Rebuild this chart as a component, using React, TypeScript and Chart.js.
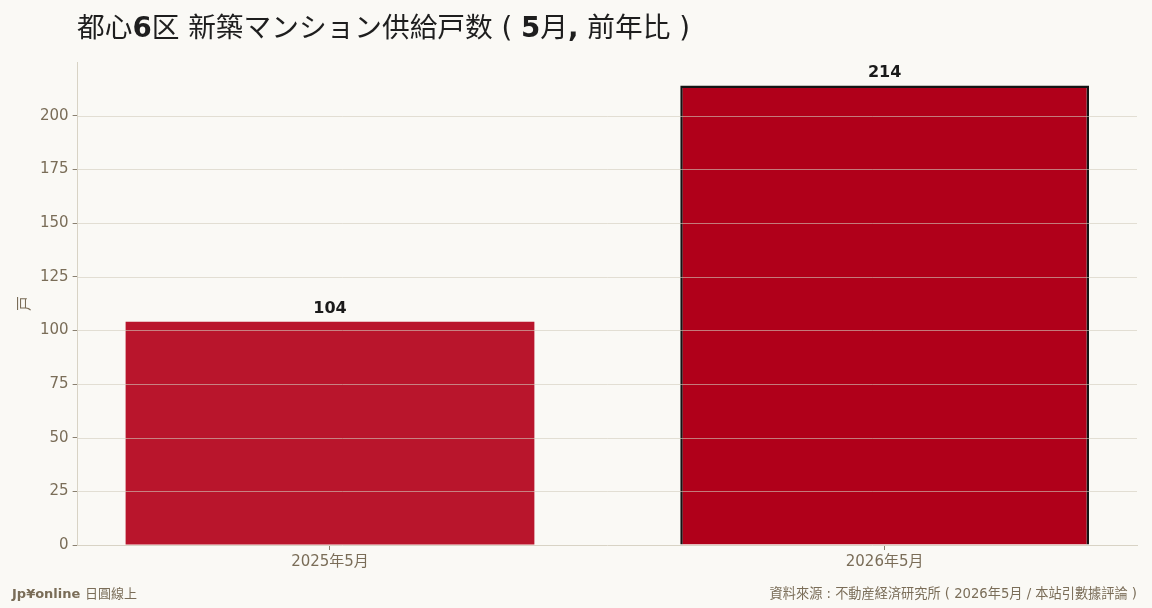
import React, { useEffect, useRef } from "react";
import { Chart, registerables } from "chart.js";

Chart.register(...registerables);

const categories = ["2025年5月", "2026年5月"];
const units = [104, 214];
const barColors = ["#b9152c", "#b0001a"];
const barBorders = [0, 2.5];
const yTicks = [0, 25, 50, 75, 100, 125, 150, 175, 200];

const FONT = "'DejaVu Sans', 'Noto Sans CJK TC', sans-serif";
const BG = "#faf9f5";
const MUTED = "#7a6d58";

const titleParts: [string, boolean][] = [
  ["都心", false],
  ["6", true],
  ["区 新築マンション供給戸数 ( ", false],
  ["5", true],
  ["月", false],
  [",", true],
  [" 前年比 )", false],
];

const decorPlugin = {
  id: "decor",
  beforeDraw(chart: any) {
    const { ctx, width, height } = chart;
    ctx.save();
    ctx.fillStyle = BG;
    ctx.fillRect(0, 0, width, height);
    ctx.restore();
  },
  afterDatasetsDraw(chart: any) {
    // horizontal grid lines drawn over the bars
    const { ctx, chartArea } = chart;
    const y = chart.scales.y;
    ctx.save();
    ctx.strokeStyle = "rgba(210, 204, 188, 0.6)";
    ctx.lineWidth = 1;
    yTicks.forEach((v) => {
      if (v === 0) return;
      const py = Math.round(y.getPixelForValue(v)) + 0.5;
      ctx.beginPath();
      ctx.moveTo(chartArea.left, py);
      ctx.lineTo(chartArea.right, py);
      ctx.stroke();
    });
    ctx.restore();
  },
  afterDraw(chart: any) {
    const { ctx } = chart;
    ctx.save();
    // title
    ctx.textBaseline = "alphabetic";
    ctx.fillStyle = "#1e1e1e";
    let x = 77;
    for (const [txt, bold] of titleParts) {
      ctx.font = `${bold ? "bold " : ""}27.7px ${FONT}`;
      ctx.fillText(txt, x, 37);
      x += ctx.measureText(txt).width;
    }
    // value labels
    const meta = chart.getDatasetMeta(0);
    ctx.font = `bold 16px ${FONT}`;
    ctx.textAlign = "center";
    ctx.textBaseline = "bottom";
    ctx.fillStyle = "#1a1a1a";
    meta.data.forEach((bar: any, i: number) => {
      ctx.fillText(String(units[i]), bar.x, bar.y - 5);
    });
    // footer
    ctx.textBaseline = "middle";
    ctx.textAlign = "left";
    ctx.fillStyle = MUTED;
    ctx.font = `bold 13px ${FONT}`;
    ctx.fillText("Jp¥online", 12, 595);
    const w = ctx.measureText("Jp¥online ").width;
    ctx.font = `13px ${FONT}`;
    ctx.fillText("日圓線上", 12 + w, 595);
    ctx.textAlign = "right";
    ctx.font = `13.2px ${FONT}`;
    ctx.fillText("資料來源 : 不動産経済研究所 ( 2026年5月 / 本站引數據評論 )", 1137, 595);
    ctx.restore();
  },
};

const App: React.FC = () => {
  const canvasRef = useRef<HTMLCanvasElement | null>(null);

  useEffect(() => {
    let chart: Chart | null = null;
    if (canvasRef.current) {
      chart = new Chart(canvasRef.current, {
        type: "bar",
        data: {
          datasets: [
            {
              data: units.map((v, i) => ({ x: i, y: v })),
              backgroundColor: barColors,
              borderColor: "#141414",
              borderWidth: barBorders,
              categoryPercentage: 1,
              barPercentage: 0.737,
            },
          ],
        },
        options: {
          animation: false,
          responsive: false,
          maintainAspectRatio: false,
          layout: { padding: { top: 62, right: 15, bottom: 34, left: 16 } },
          plugins: {
            legend: { display: false },
            title: { display: false },
            tooltip: { enabled: false },
          },
          scales: {
            x: {
              type: "linear",
              offset: false,
              min: -0.455,
              max: categories.length - 1 + 0.455,
              afterBuildTicks: (axis: any) => {
                axis.ticks = categories.map((_, i) => ({ value: i }));
              },
              grid: {
                offset: false,
                drawOnChartArea: false,
                drawTicks: true,
                tickLength: 5,
                color: "#8a8070",
              },
              border: { color: "#d8d3c5", width: 1 },
              ticks: {
                color: MUTED,
                font: { family: FONT, size: 15 },
                padding: 3,
                callback: (v: any) => categories[Math.round(v as number)] ?? "",
              },
            },
            y: {
              min: 0,
              max: 225,
              afterBuildTicks: (axis: any) => {
                axis.ticks = yTicks.map((v) => ({ value: v }));
              },
              grid: {
                drawOnChartArea: false,
                tickLength: 5,
                color: "#8a8070",
              },
              border: { color: "#d8d3c5", width: 1 },
              ticks: {
                color: MUTED,
                font: { family: FONT, size: 15 },
                padding: 4,
              },
              title: {
                display: true,
                text: "戸",
                color: MUTED,
                font: { family: FONT, size: 15 },
                padding: { top: 0, bottom: 2 },
              },
            },
          },
        },
        plugins: [decorPlugin],
      });
    }
    return () => {
      if (chart) chart.destroy();
    };
  }, []);

  return (
    <div style={{ position: "fixed", left: 0, top: 0, width: 1152, height: 608, background: BG }}>
      <canvas ref={canvasRef} width={1152} height={608} style={{ display: "block" }} />
    </div>
  );
};

export default App;
